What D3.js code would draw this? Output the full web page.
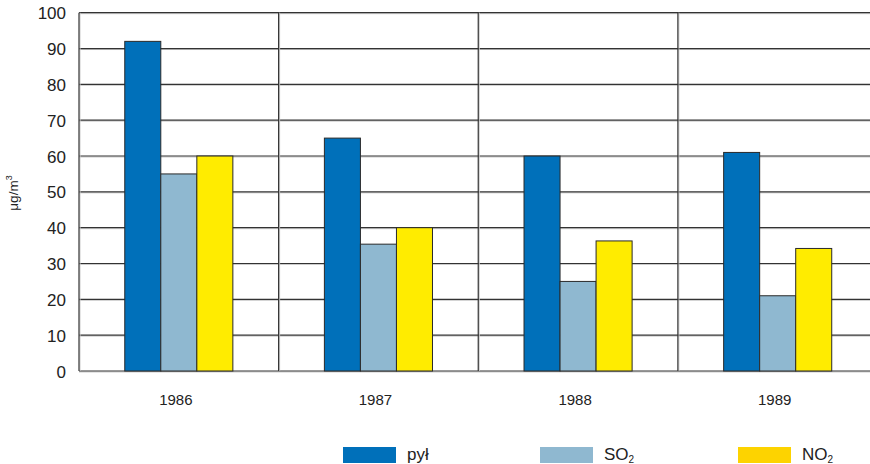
<!DOCTYPE html>
<html><head><meta charset="utf-8">
<script src="https://cdn.jsdelivr.net/npm/d3@7"></script>
<style>body{margin:0;background:#fff}svg{display:block}text{font-family:"Liberation Sans",Arial,sans-serif;fill:#222}</style>
</head><body><svg id="c" width="870" height="464"></svg>
<script>
const years = ["1986","1987","1988","1989"];
const seriesNames = ["pył","SO2","NO2"];
const pyl = [92,65,60,61];
const so2 = [55,35.4,25,21];
const no2 = [60,40,36.3,34.2];
const yTicks = [0,10,20,30,40,50,60,70,80,90,100];

const colors = {"pył":"#0070ba","SO2":"#8fb8d0","NO2":"#ffec00"};
const legendColors = {"pył":"#0070ba","SO2":"#8fb8d0","NO2":"#fdd300"};
const svg = d3.select("#c");
const m = {l:79, t:12.7, r:877.5, b:371};
const x = d3.scaleBand().domain(years).range([m.l, m.r]);
const xi = d3.scaleBand().domain(seriesNames).range([0, x.bandwidth()]).paddingOuter(1.27).paddingInner(0);
const y = d3.scaleLinear().domain([0,100]).range([m.b, m.t]);

// grid
const g = svg.append("g");
yTicks.forEach(t => {
  g.append("line").attr("x1",m.l).attr("x2",m.r).attr("y1",y(t)+1).attr("y2",y(t)+1).attr("stroke","#ccc").attr("stroke-width",1);
  g.append("line").attr("x1",m.l).attr("x2",m.r).attr("y1",y(t)).attr("y2",y(t)).attr("stroke","#333").attr("stroke-width",1.2);
});
years.forEach(yr => {
  const xx = x(yr);
  g.append("line").attr("x1",xx+1).attr("x2",xx+1).attr("y1",m.t).attr("y2",m.b).attr("stroke","#ccc");
  g.append("line").attr("x1",xx).attr("x2",xx).attr("y1",m.t).attr("y2",m.b).attr("stroke","#333").attr("stroke-width",1.2);
});
g.append("line").attr("x1",m.r).attr("x2",m.r).attr("y1",m.t).attr("y2",m.b).attr("stroke","#333").attr("stroke-width",1.2);

// bars
const data = years.map((yr,i)=>({yr, vals:[{k:"pył",v:pyl[i]},{k:"SO2",v:so2[i]},{k:"NO2",v:no2[i]}]}));
const grp = svg.selectAll("g.grp").data(data).join("g").attr("class","grp").attr("transform",d=>`translate(${x(d.yr)},0)`);
grp.selectAll("rect").data(d=>d.vals).join("rect")
  .attr("x",d=>xi(d.k)).attr("width",xi.bandwidth())
  .attr("y",d=>y(d.v)).attr("height",d=>y(0)-y(d.v))
  .attr("fill",d=>colors[d.k]).attr("stroke","#2a2a2a").attr("stroke-width",1);

// y axis labels
const yAxis = d3.axisLeft(y).tickValues(yTicks).tickSize(0).tickPadding(13);
const ya = svg.append("g").attr("transform",`translate(${m.l},0)`).call(yAxis);
ya.select(".domain").remove();
ya.selectAll("text").style("font-size","17px").attr("fill","#222").attr("font-family","Liberation Sans, Arial, sans-serif").attr("dy","0.36em");

// x axis labels
const xAxis = d3.axisBottom(x).tickSize(0).tickPadding(23);
const xa = svg.append("g").attr("transform",`translate(-3,${m.b})`).call(xAxis);
xa.select(".domain").remove();
xa.selectAll("text").style("font-size","15px").attr("fill","#222").attr("font-family","Liberation Sans, Arial, sans-serif");

// y title
const yt = svg.append("text").attr("transform","translate(18,193) rotate(-90)").attr("text-anchor","middle").style("font-size","13.5px");
yt.append("tspan").text("μg/m");
yt.append("tspan").text("3").style("font-size","9px").attr("dy","-6");

// legend
const legX = {"pył":343,"SO2":540,"NO2":738};
const lg = svg.append("g");
seriesNames.forEach(k=>{
  lg.append("rect").attr("x",legX[k]).attr("y",447).attr("width",53).attr("height",16).attr("fill",legendColors[k]);
  const t = lg.append("text").attr("x",legX[k]+64).attr("y",460).style("font-size","17px");
  if(k==="pył"){ t.text("pył"); }
  else { t.append("tspan").text(k.slice(0,2)); t.append("tspan").text("2").style("font-size","10px").attr("dy","2.5"); }
});
</script></body></html>
